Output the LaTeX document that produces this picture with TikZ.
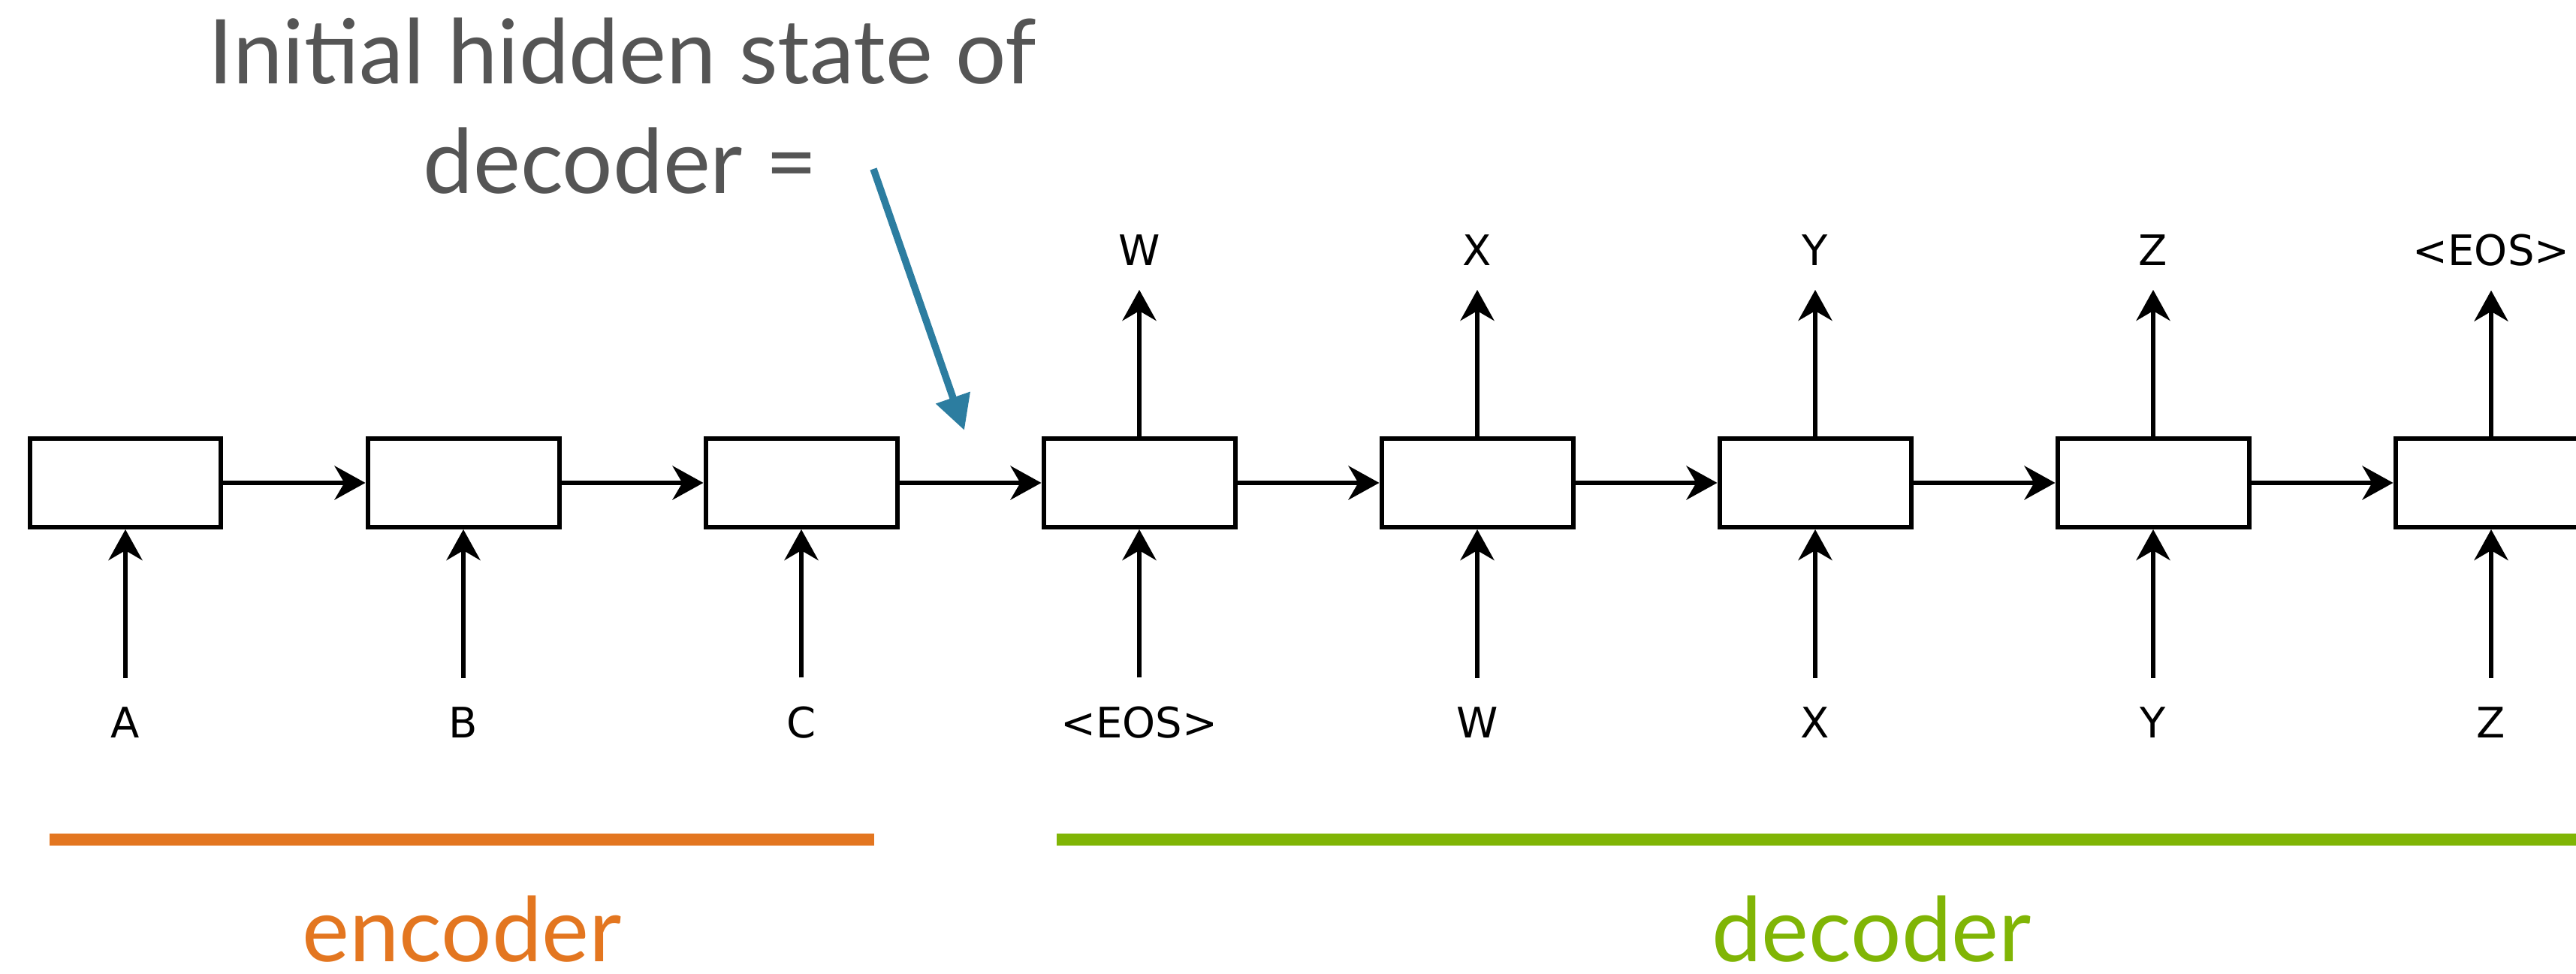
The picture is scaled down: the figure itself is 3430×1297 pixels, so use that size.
\documentclass[tikz,border=0pt]{standalone}
\usepackage{fontspec}
\setmainfont{Lato}
\newfontfamily\tokfont{DejaVu Sans}
\usetikzlibrary{arrows.meta}

\definecolor{hintblue}{RGB}{44,125,160}
\definecolor{encorange}{RGB}{227,118,32}
\definecolor{decgreen}{RGB}{128,181,5}
\definecolor{titlegray}{RGB}{85,85,85}

\tikzset{
  cell/.style={draw, line width=0.6pt, minimum width=25.5pt, minimum height=11.8pt, inner sep=0pt},
  tok/.style={font=\tokfont\fontsize{5.6}{6}\selectfont, inner sep=0pt, anchor=base},
  flow/.style={line width=0.6pt, -{Stealth[length=4.1pt,width=4.5pt,inset=1.3pt]}},
  hint/.style={hintblue, line width=0.95pt, -{Triangle[length=4.6pt,width=4.6pt]}},
  caption/.style={font=\fontsize{11.9}{14}\selectfont, inner sep=0pt, anchor=base},
  part/.style={line width=1.6pt}
}

\begin{document}
\begin{tikzpicture}[x=0.1pt,y=0.1pt,yscale=-1]
\useasboundingbox (0,0) rectangle (3430,1297);

% cells with their input tokens
\foreach \tok [count=\k] in {A,B,C,<EOS>,W,X,Y,Z} {
  \node[cell] (c\k) at ({167+450*(\k-1)},643) {};
  \node[tok] (in\k) at ({167+450*(\k-1)},983) {\tok};
  \draw[flow, shorten <=3.7pt] (in\k) -- (c\k);
}

% recurrent links
\foreach \a/\b in {1/2,2/3,3/4,4/5,5/6,6/7,7/8}
  \draw[flow] (c\a) -- (c\b);

% decoder outputs
\foreach \tok [count=\k from 4] in {W,X,Y,Z,<EOS>} {
  \node[tok] (out\k) at ({167+450*(\k-1)},354) {\tok};
  \draw[flow, shorten >=3.0pt] (c\k) -- (out\k);
}

% note on the hidden state
\node[caption, titlegray] (note1) at (829,112) {Initial hidden state of};
\node[caption, titlegray] (note2) at (826,258) {decoder =};
\coordinate (hs) at (1163,225);
\coordinate (hz) at (1284,573);
\draw[hint] (hs) -- (hz);

% encoder / decoder spans
\draw[part, encorange] (66,1118) -- (1164,1118);
\draw[part, decgreen] (1407,1118) -- (3440,1118);
\node[caption, encorange] (enc) at (615,1281) {encoder};
\node[caption, decgreen] (dec) at (2492,1281) {decoder};

\end{tikzpicture}
\end{document}
